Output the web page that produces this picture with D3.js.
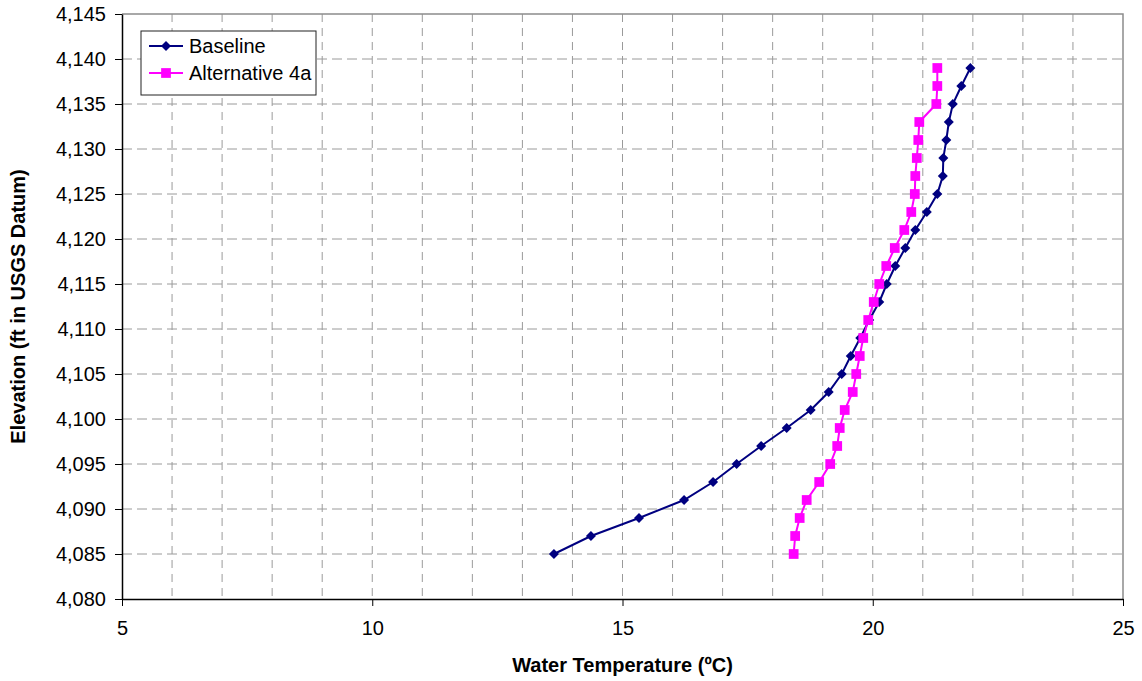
<!DOCTYPE html>
<html>
<head>
<meta charset="utf-8">
<script src="https://cdn.jsdelivr.net/npm/d3@7"></script>
<style>
  body { margin: 0; background: #fff; }
  svg { display: block; font-family: "Liberation Sans", Arial, sans-serif; }
</style>
</head>
<body>
<svg id="chart"></svg>
<script>
// elevation (ft) for each reading
const elevations = [4085, 4087, 4089, 4091, 4093, 4095, 4097, 4099, 4101, 4103,
                    4105, 4107, 4109, 4111, 4113, 4115, 4117, 4119, 4121, 4123,
                    4125, 4127, 4129, 4131, 4133, 4135, 4137, 4139];
// water temperature (C)
const baseline = [13.63, 14.37, 15.33, 16.23, 16.81, 17.28, 17.77, 18.28, 18.76, 19.12,
                  19.38, 19.56, 19.75, 19.93, 20.13, 20.28, 20.45, 20.65, 20.85, 21.08,
                  21.29, 21.40, 21.41, 21.47, 21.52, 21.60, 21.77, 21.95];
const alt4a = [18.42, 18.45, 18.54, 18.68, 18.93, 19.15, 19.29, 19.34, 19.44, 19.60,
               19.67, 19.74, 19.81, 19.91, 20.02, 20.13, 20.27, 20.44, 20.63, 20.77,
               20.84, 20.85, 20.88, 20.91, 20.93, 21.27, 21.29, 21.29];
const seriesNames = ["Baseline", "Alternative 4a"];
const xTicks = [5, 10, 15, 20, 25];
const yTicks = d3.range(4080, 4146, 5);

const width = 1142, height = 681;
const margin = { top: 14, right: 19, bottom: 82, left: 122 };
const innerW = width - margin.left - margin.right;
const innerH = height - margin.top - margin.bottom;

const svg = d3.select('#chart').attr('width', width).attr('height', height);
const chart = svg.append('g').attr('transform', `translate(${margin.left}, ${margin.top})`);

const xscale = d3.scaleLinear().domain([5, 25]).range([0, innerW]);
const yscale = d3.scaleLinear().domain([4080, 4145]).range([innerH, 0]);

// grid
chart.append('g').selectAll('line').data(d3.range(6, 25)).enter()
  .append('line')
  .attr('x1', d => xscale(d)).attr('x2', d => xscale(d))
  .attr('y1', 0).attr('y2', innerH)
  .attr('stroke', '#9a9a9a').attr('stroke-width', 1)
  .attr('stroke-dasharray', '8,6');

chart.append('g').selectAll('line').data(yTicks.slice(1, -1)).enter()
  .append('line')
  .attr('x1', 0).attr('x2', innerW)
  .attr('y1', d => yscale(d)).attr('y2', d => yscale(d))
  .attr('stroke', '#9a9a9a').attr('stroke-width', 1)
  .attr('stroke-dasharray', '10,5');

// top / right border
chart.append('path')
  .attr('d', `M0,0H${innerW}V${innerH}`)
  .attr('fill', 'none').attr('stroke', '#8c8c8c').attr('stroke-width', 1.5);

// axes
const xaxis = d3.axisBottom(xscale).tickValues(xTicks).tickSize(7).tickPadding(15).tickSizeOuter(0);
const yaxis = d3.axisLeft(yscale).tickValues(yTicks).tickSize(7).tickPadding(9)
  .tickSizeOuter(0).tickFormat(d3.format(','));

const xg = chart.append('g').attr('transform', `translate(0, ${innerH})`).call(xaxis);
const yg = chart.append('g').call(yaxis);
[xg, yg].forEach(g => {
  g.select('.domain').attr('stroke', '#000').attr('stroke-width', 1.5);
  g.selectAll('.tick line').attr('stroke', '#000');
  g.selectAll('.tick text').attr('font-size', 20).attr('fill', '#000')
    .attr('font-family', '"Liberation Sans", Arial, sans-serif');
});

// axis titles
svg.append('text')
  .attr('x', margin.left + innerW / 2).attr('y', 672)
  .attr('text-anchor', 'middle').attr('font-size', 20).attr('font-weight', 'bold')
  .text('Water Temperature (ºC)');

svg.append('text')
  .attr('transform', `translate(25, ${margin.top + innerH / 2}) rotate(-90)`)
  .attr('text-anchor', 'middle').attr('font-size', 20).attr('font-weight', 'bold')
  .text('Elevation (ft in USGS Datum)');

// series (diamond = square rotated 45deg)
const series = [
  { name: seriesNames[0], values: baseline, color: '#000080', symbol: d3.symbolSquare, size: 50, rot: 45 },
  { name: seriesNames[1], values: alt4a, color: '#ff00ff', symbol: d3.symbolSquare, size: 95, rot: 0 }
];

const line = d3.line()
  .x(d => xscale(d.t))
  .y(d => yscale(d.e));

series.forEach(s => {
  const pts = elevations.map((e, i) => ({ e: e, t: s.values[i] }));
  chart.append('path').datum(pts)
    .attr('d', line).attr('fill', 'none')
    .attr('stroke', s.color).attr('stroke-width', 2);
  chart.append('g').selectAll('path').data(pts).enter()
    .append('path')
    .attr('transform', d => `translate(${xscale(d.t)}, ${yscale(d.e)}) rotate(${s.rot})`)
    .attr('d', d3.symbol().type(s.symbol).size(s.size))
    .attr('fill', s.color);
});

// legend
const legend = svg.append('g').attr('transform', 'translate(141, 31)');
legend.append('rect')
  .attr('x', 0).attr('y', 0).attr('width', 175).attr('height', 64)
  .attr('fill', '#fff').attr('stroke', '#222').attr('stroke-width', 1);

series.forEach((s, i) => {
  const y = 15 + i * 27;
  legend.append('line')
    .attr('x1', 8).attr('x2', 42).attr('y1', y).attr('y2', y)
    .attr('stroke', s.color).attr('stroke-width', 2);
  legend.append('path')
    .attr('transform', `translate(25, ${y}) rotate(${s.rot})`)
    .attr('d', d3.symbol().type(s.symbol).size(s.size))
    .attr('fill', s.color);
  legend.append('text')
    .attr('x', 48).attr('y', y + 7)
    .attr('font-size', 20)
    .text(s.name);
});
</script>
</body>
</html>
